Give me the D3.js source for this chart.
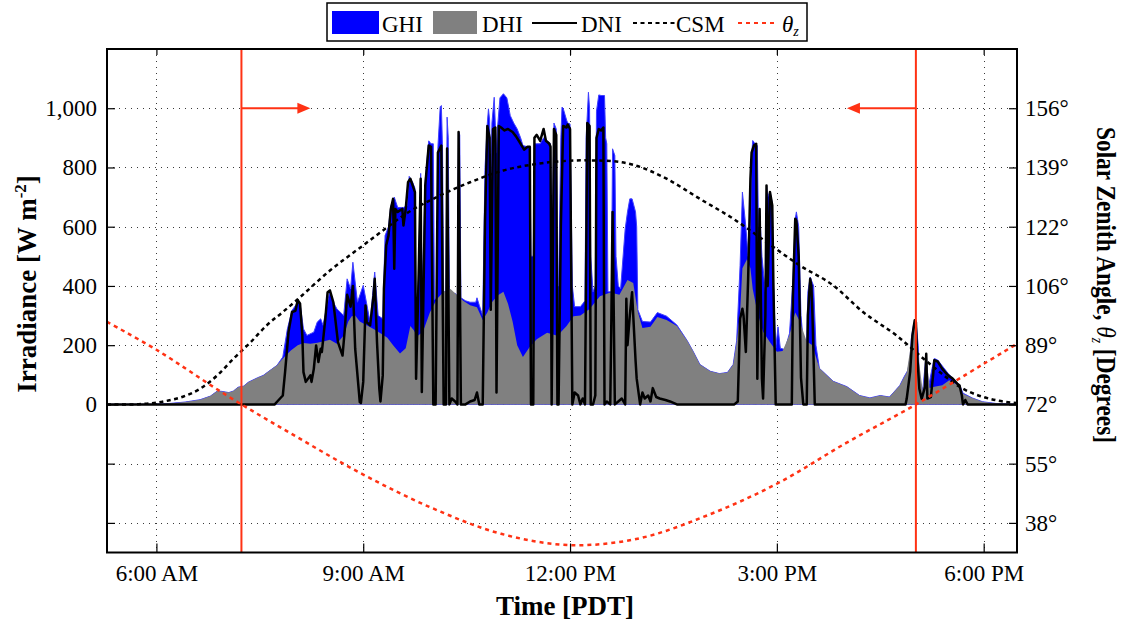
<!DOCTYPE html>
<html>
<head>
<meta charset="utf-8">
<script src="https://cdn.jsdelivr.net/npm/d3@7"></script>
<style>
  body { margin: 0; background: #fff; }
  text { font-family: "Liberation Serif", "Times New Roman", serif; fill: #000; }
</style>
</head>
<body>
<svg id="chart" width="1124" height="622"></svg>
<script>
// ---- axes ----
const timeDomain = ["5:17", "18:29"];
const timeTicks = ["6:00", "9:00", "12:00", "15:00", "18:00"];
const timeTickLabels = ["6:00 AM", "9:00 AM", "12:00 PM", "3:00 PM", "6:00 PM"];
const irradianceDomain = [-500, 1200];
const irradianceTicks = [-400, -200, 0, 200, 400, 600, 800, 1000];
const irradianceTickLabels = ["", "", "0", "200", "400", "600", "800", "1,000"];
const zenithDomain = [30, 172.8];
const zenithTicks = [38.4, 55.2, 72, 88.8, 105.6, 122.4, 139.2, 156];
const zenithTickLabels = ["38°", "55°", "72°", "89°", "106°", "122°", "139°", "156°"];

// ---- markers: times where the sun passes 72° zenith, with arrows toward the day ----
const markerTimes = ["7:14", "17:01"];
const arrowTimes = ["8:14", "16:01"];
const arrowLevel = 1000;

// ---- series: [time PDT, W m-2] ----
const ghi = [["5:17",0],["5:55",0],["6:08",2],["6:25",8],["6:38",16],["6:47",28],["6:53",45],["6:57",44],["7:03",40],["7:07",45],["7:11",58],["7:16",62],["7:20",75],["7:28",90],["7:33",98],["7:39",115],["7:45",132],["7:50",160],["7:54",255],["7:58",317],["8:03",345],["8:05",341],["8:08",255],["8:11",233],["8:17",244],["8:20",278],["8:23",289],["8:25",267],["8:29",345],["8:31",385],["8:34",345],["8:37",323],["8:43",300],["8:46",424],["8:49",390],["8:51",480],["8:55",345],["9:00",402],["9:06",278],["9:10",447],["9:13",300],["9:17",289],["9:19",570],["9:22",600],["9:24",670],["9:27",700],["9:30",665],["9:35",665],["9:38",670],["9:40",770],["9:43",750],["9:45",730],["9:46",300],["9:48",420],["9:50",780],["9:51",350],["9:54",760],["9:57",890],["9:59",880],["10:01",880],["10:02",355],["10:04",355],["10:05",870],["10:07",1005],["10:08",1009],["10:09",870],["10:10",380],["10:12",380],["10:13",970],["10:14",900],["10:15",375],["10:20",375],["10:22",365],["10:23",920],["10:24",910],["10:25",360],["10:29",350],["10:33",345],["10:38",345],["10:39",360],["10:41",335],["10:44",300],["10:46",800],["10:48",950],["10:49",998],["10:50",960],["10:51",700],["10:52",950],["10:54",1037],["10:56",850],["10:57",940],["10:59",1035],["11:02",1049],["11:05",1035],["11:08",975],["11:11",950],["11:14",930],["11:17",900],["11:19",874],["11:23",870],["11:25",864],["11:26",500],["11:28",500],["11:29",880],["11:31",880],["11:34",880],["11:37",900],["11:40",890],["11:43",880],["11:44",400],["11:46",950],["11:48",930],["11:49",400],["11:50",400],["11:52",900],["11:53",1004],["11:54",1000],["11:57",960],["11:58",950],["12:00",947],["12:02",400],["12:04",330],["12:09",330],["12:11",340],["12:13",350],["12:14",900],["12:16",1054],["12:17",1000],["12:18",500],["12:20",380],["12:22",400],["12:23",990],["12:25",1045],["12:27",1043],["12:30",1043],["12:31",900],["12:32",880],["12:33",380],["12:36",380],["12:37",863],["12:39",840],["12:40",500],["12:42",400],["12:44",390],["12:48",593],["12:50",650],["12:52",694],["12:54",694],["12:57",650],["12:58",600],["12:59",320],["13:03",280],["13:10",278],["13:16",310],["13:24",298],["13:33",268],["13:42",215],["13:47",180],["13:53",135],["14:02",112],["14:10",104],["14:17",108],["14:22",135],["14:25",215],["14:28",469],["14:30",717],["14:33",600],["14:35",500],["14:37",600],["14:38",840],["14:39",891],["14:41",880],["14:43",874],["14:44",600],["14:45",660],["14:47",500],["14:50",380],["14:51",740],["14:52",700],["14:54",720],["14:56",680],["14:57",420],["14:59",190],["15:01",262],["15:03",190],["15:07",185],["15:11",240],["15:14",420],["15:16",627],["15:17",650],["15:19",600],["15:21",300],["15:23",212],["15:26",215],["15:27",380],["15:29",430],["15:30",420],["15:32",400],["15:34",200],["15:37",122],["15:49",78],["16:01",60],["16:12",30],["16:21",22],["16:30",30],["16:38",25],["16:47",64],["16:51",95],["16:54",115],["16:56",160],["16:57",222],["16:59",270],["17:01",284],["17:03",200],["17:04",80],["17:07",50],["17:10",171],["17:12",60],["17:15",120],["17:17",155],["17:20",150],["17:24",130],["17:29",105],["17:33",88],["17:37",72],["17:39",66],["17:42",38],["17:50",22],["17:59",9],["18:11",3],["18:29",0]];

const dhi = [["5:17",0],["5:55",0],["6:08",2],["6:25",8],["6:38",16],["6:47",28],["6:53",45],["6:57",44],["7:03",40],["7:07",45],["7:11",58],["7:16",62],["7:20",75],["7:28",90],["7:33",98],["7:39",115],["7:45",132],["7:50",155],["7:57",182],["8:03",200],["8:08",207],["8:14",205],["8:20",208],["8:25",212],["8:31",218],["8:37",205],["8:43",233],["8:47",280],["8:50",298],["8:53",300],["8:57",280],["9:03",267],["9:09",255],["9:15",240],["9:21",225],["9:26",200],["9:32",172],["9:37",190],["9:41",265],["9:44",250],["9:47",230],["9:52",245],["9:58",310],["10:04",355],["10:10",380],["10:16",390],["10:22",368],["10:27",350],["10:33",335],["10:39",328],["10:44",285],["10:48",310],["10:52",345],["10:57",368],["11:02",380],["11:06",340],["11:10",280],["11:14",200],["11:19",160],["11:25",195],["11:31",220],["11:40",242],["11:49",232],["11:57",265],["12:03",298],["12:09",300],["12:17",322],["12:26",365],["12:35",378],["12:43",370],["12:50",420],["12:55",410],["12:59",312],["13:03",258],["13:10",262],["13:16",295],["13:24",285],["13:33",265],["13:42",215],["13:47",180],["13:53",135],["14:02",112],["14:10",104],["14:17",108],["14:22",135],["14:25",210],["14:28",310],["14:30",460],["14:34",490],["14:37",460],["14:39",390],["14:43",312],["14:48",245],["14:54",210],["15:00",178],["15:05",180],["15:11",235],["15:16",310],["15:20",280],["15:26",212],["15:31",200],["15:37",122],["15:49",78],["16:01",60],["16:12",30],["16:21",22],["16:30",30],["16:38",25],["16:47",64],["16:53",108],["16:57",210],["17:00",278],["17:03",165],["17:07",45],["17:10",165],["17:13",55],["17:17",60],["17:24",65],["17:30",82],["17:37",66],["17:42",36],["17:50",22],["17:59",9],["18:11",3],["18:29",0]];

const dni = [["5:17",0],["7:43",0],["7:45",9],["7:50",30],["7:52",110],["7:55",245],["7:58",312],["8:01",316],["8:03",352],["8:05",341],["8:07",233],["8:08",109],["8:10",76],["8:12",87],["8:14",98],["8:15",76],["8:17",120],["8:19",199],["8:21",143],["8:23",188],["8:24",177],["8:27",289],["8:29",379],["8:31",385],["8:34",345],["8:36",278],["8:38",210],["8:42",165],["8:44",255],["8:46",370],["8:49",330],["8:51",400],["8:53",188],["8:56",53],["8:57",8],["8:58",5],["9:00",76],["9:02",334],["9:03",278],["9:06",267],["9:09",368],["9:10",424],["9:12",210],["9:14",53],["9:15",10],["9:17",98],["9:18",390],["9:20",537],["9:22",570],["9:24",660],["9:26",694],["9:27",458],["9:28",660],["9:30",650],["9:34",660],["9:35",604],["9:37",660],["9:39",750],["9:41",762],["9:43",740],["9:45",717],["9:46",87],["9:48",400],["9:50",762],["9:51",42],["9:54",740],["9:57",874],["9:59",870],["10:01",0],["10:03",0],["10:05",850],["10:08",874],["10:10",0],["10:12",0],["10:13",864],["10:15",0],["10:17",20],["10:20",10],["10:22",0],["10:23",920],["10:25",0],["10:29",0],["10:33",10],["10:37",15],["10:39",40],["10:41",0],["10:44",0],["10:46",620],["10:48",940],["10:50",900],["10:51",320],["10:53",930],["10:55",935],["10:56",40],["10:58",940],["11:00",935],["11:03",925],["11:06",930],["11:10",920],["11:13",905],["11:17",880],["11:20",860],["11:23",870],["11:25",870],["11:26",0],["11:28",0],["11:29",900],["11:31",910],["11:34",890],["11:37",930],["11:39",890],["11:42",880],["11:43",870],["11:44",0],["11:46",930],["11:48",910],["11:49",0],["11:50",0],["11:52",600],["11:54",940],["11:57",935],["11:58",945],["12:00",930],["12:02",0],["12:04",40],["12:07",30],["12:09",0],["12:11",20],["12:13",0],["12:15",950],["12:17",940],["12:18",0],["12:20",0],["12:22",30],["12:23",900],["12:25",930],["12:27",925],["12:29",935],["12:30",0],["12:32",10],["12:35",0],["12:36",300],["12:37",650],["12:39",0],["12:42",10],["12:45",20],["12:48",0],["12:49",357],["12:50",200],["12:52",300],["12:54",379],["12:55",300],["12:57",150],["12:58",87],["13:01",0],["13:03",40],["13:05",20],["13:08",30],["13:10",10],["13:12",55],["13:15",25],["13:18",20],["13:23",15],["13:27",10],["13:33",0],["14:23",0],["14:26",10],["14:28",289],["14:30",323],["14:31",300],["14:33",177],["14:35",424],["14:37",762],["14:38",850],["14:40",874],["14:42",880],["14:43",87],["14:45",660],["14:47",87],["14:48",20],["14:50",300],["14:51",739],["14:52",400],["14:54",717],["14:56",672],["14:57",400],["14:59",0],["15:13",0],["15:14",368],["15:16",627],["15:17",620],["15:19",500],["15:21",90],["15:23",0],["15:26",0],["15:27",300],["15:29",424],["15:30",400],["15:31",300],["15:33",0],["16:52",0],["16:53",19],["16:56",110],["16:58",233],["17:00",284],["17:01",278],["17:02",177],["17:04",53],["17:06",19],["17:09",60],["17:10",171],["17:11",20],["17:14",25],["17:16",100],["17:17",149],["17:20",145],["17:24",120],["17:29",98],["17:33",87],["17:37",70],["17:39",64],["17:41",30],["17:42",0],["17:44",15],["17:46",0],["18:29",0]];

// clear-sky model GHI
const csm = [["5:17",0],["5:40",0],["5:49",2],["6:01",6],["6:09",12],["6:23",26],["6:38",53],["6:53",98],["7:07",154],["7:22",210],["7:36",267],["7:50",312],["8:03",355],["8:31",452],["9:00",537],["9:23",604],["9:35",638],["10:04",700],["10:33",750],["11:02",790],["11:31",812],["12:00",823],["12:10",824],["12:29",823],["12:55",809],["13:24",762],["13:53",694],["14:22",627],["14:51",548],["15:20",469],["15:49",402],["16:15",312],["16:44",233],["17:13",137],["17:42",53],["18:11",14],["18:25",6],["18:29",5]];

// solar zenith angle, degrees
const zenith = [["5:17",95.4],["6:00",87.5],["7:00",74.8],["8:00",63.2],["9:00",52.1],["10:00",42.6],["11:00",35.3],["12:00",32.1],["13:00",34.0],["14:00",40.6],["15:00",49.5],["16:00",61.0],["17:00",71.8],["18:00",83.5],["18:29",89.2]];

const legendLabels = ["GHI", "DHI", "DNI", "CSM"];

// ---- drawing ----
const toMin = s => { const p = s.split(":"); return +p[0] * 60 + +p[1]; };
const svg = d3.select("#chart");
const plot = { left: 107, right: 1017, top: 49, bottom: 552.5 };
const red = "#ff3214";

const x = d3.scaleLinear().domain(timeDomain.map(toMin)).range([plot.left, plot.right]);
const y = d3.scaleLinear().domain(irradianceDomain).range([plot.bottom, plot.top]);
const yz = d3.scaleLinear().domain(zenithDomain).range([plot.bottom, plot.top]);

svg.append("defs").append("clipPath").attr("id", "plotClip")
  .append("rect").attr("x", plot.left).attr("y", plot.top)
  .attr("width", plot.right - plot.left).attr("height", plot.bottom - plot.top);

// dotted grid
const grid = svg.append("g").attr("stroke", "#3a3a3a").attr("stroke-width", 1).attr("stroke-dasharray", "1,5");
grid.selectAll(null).data(timeTicks).join("line")
  .attr("x1", d => Math.round(x(toMin(d))) + 0.5).attr("x2", d => Math.round(x(toMin(d))) + 0.5)
  .attr("y1", plot.top).attr("y2", plot.bottom);
grid.selectAll(null).data(irradianceTicks).join("line")
  .attr("y1", d => Math.round(y(d)) + 0.5).attr("y2", d => Math.round(y(d)) + 0.5)
  .attr("x1", plot.left).attr("x2", plot.right);

const data = svg.append("g").attr("clip-path", "url(#plotClip)");
const area = d3.area().x(d => x(toMin(d[0]))).y0(y(0)).y1(d => y(d[1]));
const line = d3.line().x(d => x(toMin(d[0]))).y(d => y(d[1]));
const zline = d3.line().x(d => x(toMin(d[0]))).y(d => yz(d[1])).curve(d3.curveCatmullRom);
const smooth = d3.line().x(d => x(toMin(d[0]))).y(d => y(d[1])).curve(d3.curveMonotoneX);

data.append("path").datum(ghi).attr("d", area)
  .attr("fill", "#0000ff").attr("stroke", "#4040ff").attr("stroke-width", 1);
data.append("path").datum(dhi).attr("d", area).attr("fill", "#808080");
data.append("path").datum(dni).attr("d", line)
  .attr("fill", "none").attr("stroke", "#000").attr("stroke-width", 2.5).attr("stroke-linejoin", "round");
data.append("path").datum(csm).attr("d", smooth)
  .attr("fill", "none").attr("stroke", "#000").attr("stroke-width", 2.5).attr("stroke-dasharray", "4,3.5");
data.append("path").datum(zenith).attr("d", zline)
  .attr("fill", "none").attr("stroke", red).attr("stroke-width", 2.5).attr("stroke-dasharray", "4,4");

// markers and arrows
markerTimes.forEach((t, i) => {
  const x0 = x(toMin(t)), x1 = x(toMin(arrowTimes[i])), ya = y(arrowLevel);
  const dir = Math.sign(x1 - x0);
  data.append("line").attr("x1", x0).attr("x2", x0).attr("y1", plot.top).attr("y2", plot.bottom)
    .attr("stroke", red).attr("stroke-width", 2);
  data.append("line").attr("x1", x0).attr("x2", x1 - dir * 10).attr("y1", ya).attr("y2", ya)
    .attr("stroke", red).attr("stroke-width", 2);
  data.append("path")
    .attr("d", `M${x1},${ya} L${x1 - dir * 13},${ya - 5.5} L${x1 - dir * 13},${ya + 5.5} Z`)
    .attr("fill", red);
});

// axes (ticks point inward)
function styleAxis(g) {
  g.select(".domain").remove();
  g.selectAll(".tick line").attr("stroke", "#000").attr("stroke-width", 1.2);
  g.selectAll(".tick text").style("font-family", '"Liberation Serif", serif').style("font-size", "23px").attr("fill", "#000");
}
svg.append("g").attr("transform", `translate(0,${plot.bottom})`)
  .call(d3.axisBottom(x).tickValues(timeTicks.map(toMin)).tickFormat((d, i) => timeTickLabels[i])
    .tickSizeInner(-9).tickSizeOuter(0).tickPadding(12))
  .call(styleAxis);
svg.append("g").attr("transform", `translate(0,${plot.top})`)
  .call(d3.axisTop(x).tickValues(timeTicks.map(toMin)).tickFormat(() => "")
    .tickSizeInner(-6).tickSizeOuter(0))
  .call(styleAxis);
svg.append("g").attr("transform", `translate(${plot.left},0)`)
  .call(d3.axisLeft(y).tickValues(irradianceTicks).tickFormat((d, i) => irradianceTickLabels[i])
    .tickSizeInner(-8).tickSizeOuter(0).tickPadding(10))
  .call(styleAxis);
svg.append("g").attr("transform", `translate(${plot.right},0)`)
  .call(d3.axisRight(yz).tickValues(zenithTicks).tickFormat((d, i) => zenithTickLabels[i])
    .tickSizeInner(-8).tickSizeOuter(0).tickPadding(8))
  .call(styleAxis);

svg.append("rect").attr("x", plot.left).attr("y", plot.top)
  .attr("width", plot.right - plot.left).attr("height", plot.bottom - plot.top)
  .attr("fill", "none").attr("stroke", "#000").attr("stroke-width", 2);

// axis titles
svg.append("text").attr("x", 565).attr("y", 615).attr("text-anchor", "middle")
  .style("font-size", "27px").style("font-weight", "bold").text("Time [PDT]");

const yt = svg.append("text").attr("transform", "translate(36,284) rotate(-90)")
  .attr("text-anchor", "middle").style("font-size", "27px").style("font-weight", "bold");
yt.append("tspan").text("Irradiance [W m");
yt.append("tspan").attr("dy", -10).style("font-size", "17px").text("-2");
yt.append("tspan").attr("dy", 10).text("]");

const zt = svg.append("text").attr("transform", "translate(1097,285) rotate(90)")
  .attr("text-anchor", "middle").style("font-size", "27px").style("font-weight", "bold")
  .attr("textLength", 316).attr("lengthAdjust", "spacingAndGlyphs");
zt.append("tspan").text("Solar Zenith Angle, ");
zt.append("tspan").style("font-style", "italic").style("font-weight", "normal").text("θ");
zt.append("tspan").attr("dy", 5).style("font-style", "italic").style("font-weight", "normal").style("font-size", "16px").text("z");
zt.append("tspan").attr("dy", -5).text(" [Degrees]");

// legend
const lg = svg.append("g");
lg.append("rect").attr("x", 327).attr("y", 3).attr("width", 480).attr("height", 38)
  .attr("fill", "#fff").attr("stroke", "#000").attr("stroke-width", 1.5);
lg.append("rect").attr("x", 332).attr("y", 11).attr("width", 47).attr("height", 23).attr("fill", "#0000ff");
lg.append("rect").attr("x", 433).attr("y", 11).attr("width", 44).attr("height", 23).attr("fill", "#808080");
lg.append("line").attr("x1", 532).attr("x2", 577).attr("y1", 23).attr("y2", 23).attr("stroke", "#000").attr("stroke-width", 2);
lg.append("line").attr("x1", 633).attr("x2", 675).attr("y1", 23).attr("y2", 23).attr("stroke", "#000").attr("stroke-width", 2).attr("stroke-dasharray", "4,3.5");
lg.append("line").attr("x1", 738).attr("x2", 778).attr("y1", 23).attr("y2", 23).attr("stroke", red).attr("stroke-width", 2).attr("stroke-dasharray", "4,4");
const lx = [382, 482, 581, 676];
legendLabels.forEach((l, i) => lg.append("text").attr("x", lx[i]).attr("y", 32).style("font-size", "23px").text(l));
const zl = lg.append("text").attr("x", 782).attr("y", 32).style("font-size", "23px");
zl.append("tspan").style("font-style", "italic").text("θ");
zl.append("tspan").attr("dy", 4).style("font-style", "italic").style("font-size", "14px").text("z");
</script>
</body>
</html>
